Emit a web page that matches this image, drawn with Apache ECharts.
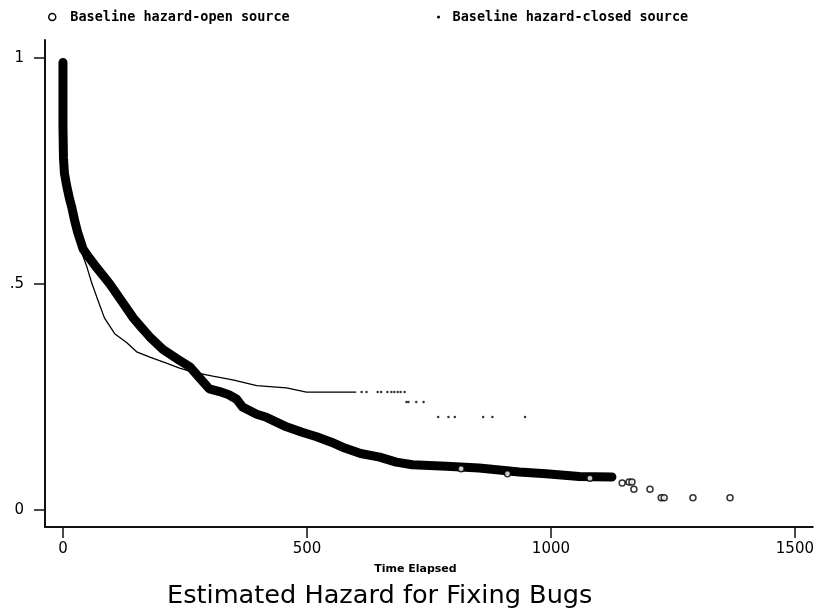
<!DOCTYPE html>
<html>
<head>
<meta charset="utf-8">
<title>Estimated Hazard for Fixing Bugs</title>
<script src="https://cdn.jsdelivr.net/npm/echarts@6/dist/echarts.min.js"></script>
<style>
  html, body { margin: 0; padding: 0; background: #fff; }
  #chart { width: 817px; height: 616px; }
</style>
</head>
<body>
<div id="chart"></div>
<script>
// open source baseline hazard (dense band of hollow circles)
const openTime = [0, 0, 1, 3, 8, 14, 18, 24, 30, 41, 51, 70, 96, 123, 144, 160, 178, 205, 233, 260, 282, 300, 321, 340, 356, 368, 397, 417, 458, 490, 520, 550, 573, 610, 649, 683, 716, 786, 853, 935, 990, 1058, 1125];
const openHazard = [0.99, 0.85, 0.78, 0.745, 0.715, 0.686, 0.67, 0.64, 0.615, 0.578, 0.562, 0.535, 0.5, 0.458, 0.425, 0.405, 0.383, 0.355, 0.335, 0.317, 0.29, 0.268, 0.262, 0.255, 0.245, 0.228, 0.212, 0.205, 0.184, 0.172, 0.162, 0.15, 0.139, 0.125, 0.117, 0.106, 0.1, 0.097, 0.093, 0.084, 0.08, 0.074, 0.073];
// single circles standing out of the band and the sparse tail
const openTailTime = [816, 911, 1080, 1146, 1160, 1166, 1170, 1203, 1226, 1232, 1291, 1367];
const openTailHazard = [0.091, 0.08, 0.07, 0.06, 0.062, 0.062, 0.046, 0.046, 0.027, 0.027, 0.027, 0.027];

// closed source baseline hazard (small dots)
const closedTime = [0, 8, 20, 39, 49, 59, 69, 85, 106, 131, 151, 178, 212, 239, 266, 307, 348, 397, 458, 499, 601];
const closedHazard = [0.97, 0.71, 0.64, 0.568, 0.538, 0.502, 0.472, 0.425, 0.39, 0.37, 0.35, 0.338, 0.325, 0.314, 0.305, 0.296, 0.288, 0.275, 0.27, 0.261, 0.261];
const closedTailTime = [612, 622, 645, 652, 665, 673, 679, 686, 692, 700, 704, 708, 724, 739, 769, 790, 803, 861, 880, 947];
const closedTailHazard = [0.261, 0.261, 0.261, 0.261, 0.261, 0.261, 0.261, 0.261, 0.261, 0.261, 0.239, 0.239, 0.239, 0.239, 0.206, 0.206, 0.206, 0.206, 0.206, 0.206];

const xTicks = [0, 500, 1000, 1500];
const yTicks = [0, 0.5, 1];

const openName = "Baseline hazard-open source";
const closedName = "Baseline hazard-closed source";

const zip = (xs, ys) => xs.map((x, i) => [x, ys[i]]);

const chart = echarts.init(document.getElementById("chart"), null, { renderer: "canvas" });

const legendText = {
  fontFamily: "DejaVu Sans Mono",
  fontWeight: "bold",
  fontSize: 13.5,
  color: "#000"
};

const option = {
  backgroundColor: "#fff",
  animation: false,
  title: {
    text: "Estimated Hazard for Fixing Bugs",
    left: 167,
    top: 583,
    padding: 0,
    textStyle: {
      fontFamily: "DejaVu Sans",
      fontWeight: "normal",
      fontSize: 25.6,
      color: "#000"
    }
  },
  legend: [
    {
      left: 48,
      top: 10,
      padding: 0,
      itemWidth: 26,
      itemHeight: 7,
      textStyle: legendText,
      data: [
        {
          name: openName,
          icon: "circle",
          itemStyle: { color: "#fff", borderColor: "#000", borderWidth: 1.5 }
        }
      ]
    },
    {
      left: 437,
      top: 10,
      padding: 0,
      itemWidth: 18,
      itemHeight: 3,
      textStyle: legendText,
      data: [{ name: closedName, icon: "circle", itemStyle: { color: "#000" } }]
    }
  ],
  grid: {
    left: 45,
    right: 3,
    top: 40,
    bottom: 89
  },
  xAxis: {
    type: "value",
    min: -36.8,
    max: 1536.7,
    name: "Time Elapsed",
    nameLocation: "middle",
    nameGap: 37,
    nameTextStyle: {
      fontFamily: "DejaVu Sans",
      fontWeight: "bold",
      fontSize: 11,
      color: "#000",
      padding: [0, 27, 0, 0]
    },
    axisLine: { onZero: false, lineStyle: { color: "#111", width: 2 } },
    axisTick: { show: true, length: 11, customValues: xTicks, lineStyle: { color: "#111", width: 1.5 } },
    axisLabel: {
      customValues: xTicks,
      margin: 15,
      fontFamily: "DejaVu Sans",
      fontSize: 15,
      color: "#000",
      formatter: v => String(v)
    },
    splitLine: { show: false }
  },
  yAxis: {
    type: "value",
    min: -0.0376,
    max: 1.0398,
    axisLine: { show: true, onZero: false, lineStyle: { color: "#111", width: 2 } },
    axisTick: { show: true, length: 11, customValues: yTicks, lineStyle: { color: "#111", width: 1.5 } },
    axisLabel: {
      customValues: yTicks,
      margin: 21,
      fontFamily: "DejaVu Sans",
      fontSize: 15,
      color: "#000",
      formatter: v => (v === 0.5 ? ".5" : String(v))
    },
    splitLine: { show: false }
  },
  series: [
    {
      name: closedName,
      type: "line",
      data: zip(closedTime, closedHazard),
      showSymbol: false,
      symbol: "none",
      lineStyle: { color: "#000", width: 1.3 },
      z: 2
    },
    {
      name: closedName,
      type: "scatter",
      data: zip(closedTailTime, closedTailHazard),
      symbol: "circle",
      symbolSize: 2.5,
      itemStyle: { color: "#000" },
      z: 2
    },
    {
      name: openName,
      type: "line",
      data: zip(openTime, openHazard),
      showSymbol: false,
      symbol: "none",
      lineStyle: { color: "#000", width: 9, cap: "round", join: "round" },
      z: 3
    },
    {
      name: openName,
      type: "scatter",
      data: zip(openTailTime, openTailHazard),
      symbol: "circle",
      symbolSize: 6,
      itemStyle: { color: "#fff", borderColor: "#000", borderWidth: 1.5 },
      z: 4
    }
  ]
};

chart.setOption(option);
</script>
</body>
</html>
